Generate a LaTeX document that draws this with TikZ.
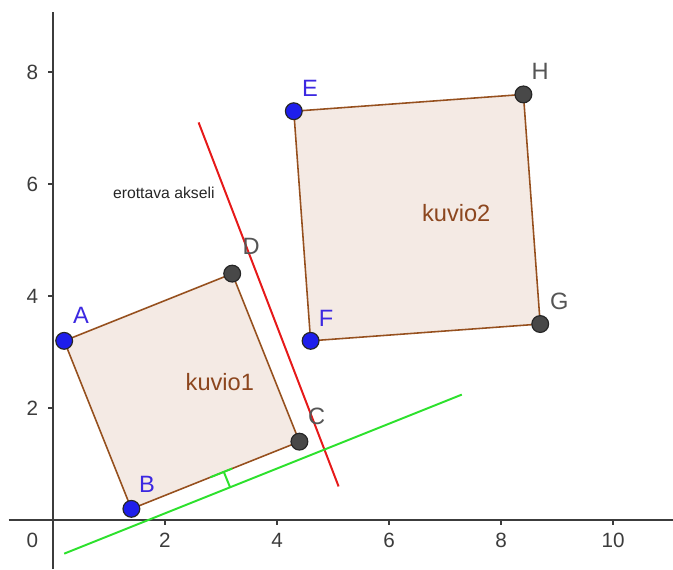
\documentclass[tikz,border=0pt]{standalone}
\usepackage{fontspec}
\setmainfont{Liberation Sans}
\usetikzlibrary{calc}

\definecolor{kuvioedge}{RGB}{150,80,30}
\definecolor{kuviofill}{RGB}{244,234,228}
\definecolor{kuviotext}{RGB}{140,70,30}
\definecolor{ptblue}{RGB}{30,30,235}
\definecolor{lblblue}{RGB}{60,40,225}
\definecolor{ptgray}{RGB}{72,72,72}
\definecolor{lblgray}{RGB}{85,85,85}
\definecolor{axisgray}{RGB}{60,60,60}
\definecolor{akseli}{RGB}{230,25,25}
\definecolor{viiva}{RGB}{45,225,45}

\tikzset{
  kuvio/.style={draw=kuvioedge,fill=kuviofill,line width=0.8pt},
  bpt/.style={circle,draw=black!85,fill=ptblue,line width=0.6pt,inner sep=0pt,minimum size=0.3cm},
  gpt/.style={circle,draw=black!85,fill=ptgray,line width=0.6pt,inner sep=0pt,minimum size=0.3cm},
  blbl/.style={text=lblblue,font=\fontsize{12}{12}\selectfont},
  glbl/.style={text=lblgray,font=\fontsize{12}{12}\selectfont},
  axnum/.style={text=axisgray,font=\fontsize{10.5}{11}\selectfont},
  kname/.style={text=kuviotext,font=\fontsize{12}{12}\selectfont}
}

\begin{document}
\begin{tikzpicture}
  \useasboundingbox (-0.946,-0.875) rectangle (11.071,9.286);
  % axes
  \draw[axisgray,line width=1pt] (-0.79,0) -- (11.071,0);
  \draw[axisgray,line width=1pt] (0,-0.875) -- (0,9.07);
  \foreach \x in {2,4,...,10} {
    \draw[axisgray,line width=0.8pt] (\x,0) -- (\x,-0.09);
    \node[axnum] (xn\x) at (\x,-0.37) {\x};
  }
  \foreach \y in {2,4,6,8} {
    \draw[axisgray,line width=0.8pt] (0,\y) -- (-0.09,\y);
    \node[axnum] (yn\y) at (-0.37,\y) {\y};
  }
  \node[axnum] (orig) at (-0.37,-0.37) {0};
  % kuvio1 and kuvio2
  \coordinate (A) at (0.2,3.2);
  \coordinate (B) at (1.4,0.2);
  \coordinate (C) at (4.4,1.4);
  \coordinate (D) at (3.2,4.4);
  \coordinate (E) at (4.3,7.3);
  \coordinate (F) at (4.6,3.2);
  \coordinate (G) at (8.7,3.5);
  \coordinate (H) at (8.4,7.6);
  \draw[kuvio] (A) -- (B) -- (C) -- (D) -- cycle;
  \draw[kuvio] (E) -- (F) -- (G) -- (H) -- cycle;
  \node[kname] (k1) at (2.98,2.46) {kuvio1};
  \node[kname] (k2) at (7.2,5.48) {kuvio2};
  % separating axis and the green line
  \coordinate (r1) at (2.6,7.1);
  \coordinate (r2) at (5.1,0.6);
  \draw[akseli,line width=1pt] (r1) -- (r2);
  \coordinate (g1) at (0.2,-0.6);
  \coordinate (g2) at (7.3,2.24);
  \draw[viiva,line width=1pt] (g1) -- (g2);
  \coordinate (m1) at ($(B)!0.47!(C)$);
  \coordinate (m2) at ($(B)!0.6!(C)$);
  \coordinate (m3) at ($(B)!0.55!(C)$);
  \coordinate (m4) at (3.16,0.59);
  \draw[viiva,line width=1pt] (m1) -- (m2);
  \draw[viiva,line width=1pt] (m3) -- (m4);
  \node[text=black!85,font=\fontsize{8}{8}\selectfont] (ak) at (1.98,5.84) {erottava akseli};
  % points
  \node[bpt] (pA) at (A) {};
  \node[bpt] (pB) at (B) {};
  \node[gpt] (pC) at (C) {};
  \node[gpt] (pD) at (D) {};
  \node[bpt] (pE) at (E) {};
  \node[bpt] (pF) at (F) {};
  \node[gpt] (pG) at (G) {};
  \node[gpt] (pH) at (H) {};
  \node[blbl] (lA) at (0.5,3.66) {A};
  \node[blbl] (lB) at (1.68,0.64) {B};
  \node[glbl] (lC) at (4.71,1.86) {C};
  \node[glbl] (lD) at (3.54,4.88) {D};
  \node[blbl] (lE) at (4.59,7.71) {E};
  \node[blbl] (lF) at (4.875,3.61) {F};
  \node[glbl] (lG) at (9.04,3.91) {G};
  \node[glbl] (lH) at (8.70,8.02) {H};
\end{tikzpicture}
\end{document}
